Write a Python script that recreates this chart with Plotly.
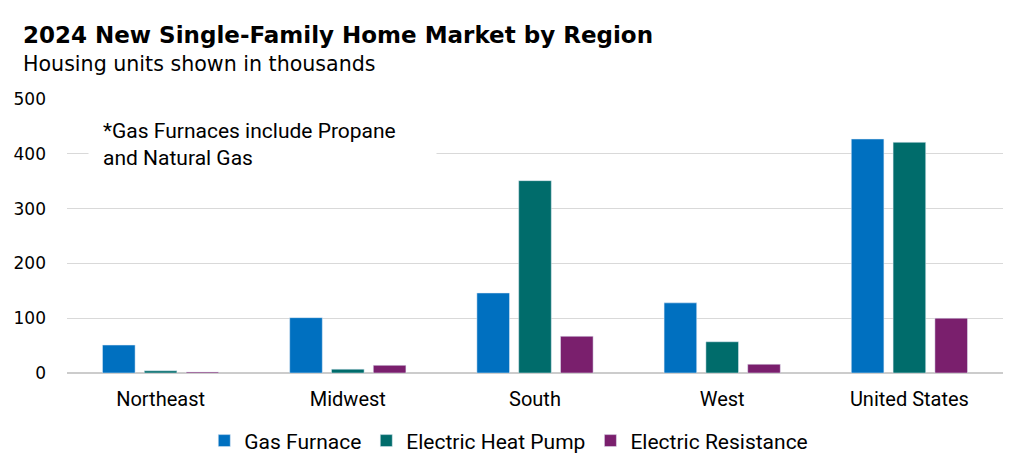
import plotly.graph_objects as go

regions = ["Northeast", "Midwest", "South", "West", "United States"]
gas_furnace = [51, 101, 146, 128, 427]
heat_pump = [4, 7, 351, 57, 421]
resistance = [2, 14, 67, 16, 100]

y_ticks = [0, 100, 200, 300, 400, 500]

fig = go.Figure()
fig.add_trace(go.Bar(x=regions, y=gas_furnace, name="Gas Furnace",
                     marker_color="#0070C0"))
fig.add_trace(go.Bar(x=regions, y=heat_pump, name="Electric Heat Pump",
                     marker_color="#006C6B"))
fig.add_trace(go.Bar(x=regions, y=resistance, name="Electric Resistance",
                     marker_color="#7A1F6D"))

# title + subtitle as annotations, left aligned near the page edge
fig.add_annotation(text="<b>2024 New Single-Family Home Market by Region</b>",
                   xref="paper", yref="paper", x=(21 - 67) / 936, y=1.234,
                   xanchor="left", yanchor="middle", showarrow=False,
                   font=dict(family="DejaVu Sans", size=23, color="black"))
fig.add_annotation(text="Housing units shown in thousands",
                   xref="paper", yref="paper", x=(21 - 67) / 936, y=1.128,
                   xanchor="left", yanchor="middle", showarrow=False,
                   font=dict(family="DejaVu Sans", size=20.6, color="black"))

# note box, white background breaks the 400 gridline like the original
fig.add_annotation(text="*Gas Furnaces include Propane<br>and Natural Gas",
                   xref="paper", yref="paper", x=(88 - 67) / 936, y=(373 - 144.5) / 274,
                   xanchor="left", yanchor="middle", showarrow=False,
                   align="left", width=319, bgcolor="white", borderpad=14,
                   font=dict(family="Roboto", size=21, color="black"))

fig.update_layout(
    width=1016, height=467,
    margin=dict(l=59, r=21, t=91, b=102),
    plot_bgcolor="white", paper_bgcolor="white",
    barmode="group", bargap=0.33, bargroupgap=0.22,
    font=dict(family="Roboto", size=20, color="black"),
    xaxis=dict(showgrid=False, ticks="", ticklabelstandoff=12,
               automargin=False, tickfont=dict(family="Roboto", size=20)),
    yaxis=dict(range=[0, 500], tickvals=y_ticks, showgrid=True,
               gridcolor="#d9d9d9", gridwidth=1, zeroline=True,
               zerolinecolor="#cccccc", zerolinewidth=1.5,
               ticklabelstandoff=20, automargin=False,
               tickfont=dict(family="DejaVu Sans", size=17)),
    legend=dict(orientation="h", x=0.472, y=-0.248, xanchor="center",
                yanchor="middle", font=dict(family="Roboto", size=21)),
)

fig.write_html("out.html")
